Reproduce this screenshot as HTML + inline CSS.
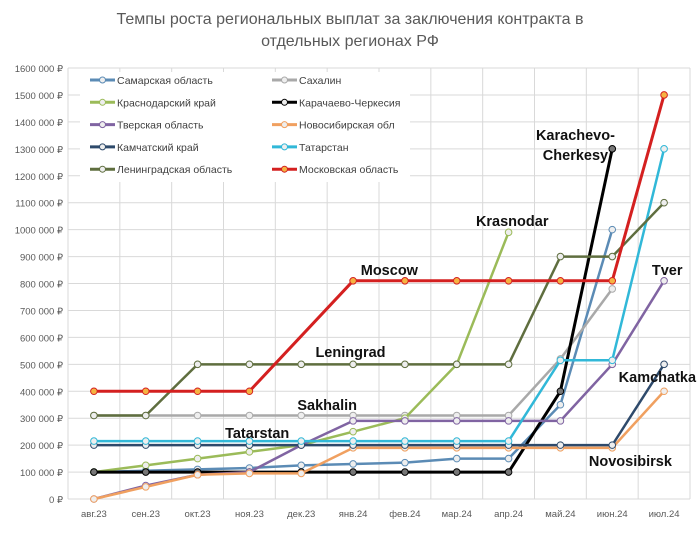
<!DOCTYPE html>
<html><head><meta charset="utf-8"><style>
body{margin:0;background:#fff;font-family:"Liberation Sans",sans-serif}
svg text{font-family:"Liberation Sans",sans-serif}
</style></head><body>
<svg id="c" width="700" height="531">
<text x="350" y="24" text-anchor="middle" font-size="16" fill="#595959">Темпы роста региональных выплат за заключения контракта в</text>
<text x="350" y="46" text-anchor="middle" font-size="16" fill="#595959">отдельных регионах РФ</text>
</svg>
<script>
const months=["авг.23","сен.23","окт.23","ноя.23","дек.23","янв.24","фев.24","мар.24","апр.24","май.24","июн.24","июл.24"];
const yTicks=[0,100000,200000,300000,400000,500000,600000,700000,800000,900000,1000000,1100000,1200000,1300000,1400000,1500000,1600000];
const seriesNames=["Самарская область","Сахалин","Краснодарский край","Карачаево-Черкесия","Тверская область","Новосибирская обл","Камчатский край","Татарстан","Ленинградская область","Московская область"];
const seriesColors=["#5b8bb5","#a9a9a9","#9bbb59","#000000","#8064a2","#f0a060","#2e4a6b","#31b8d8","#5f6e3f","#d42020"];
const samara=[100000,105000,110000,115000,125000,130000,135000,150000,150000,350000,1000000,null];
const sakhalin=[310000,310000,310000,310000,310000,310000,310000,310000,310000,520000,780000,null];
const krasnodar=[100000,125000,150000,175000,200000,250000,300000,500000,990000,null,null,null];
const karachay=[100000,100000,100000,100000,100000,100000,100000,100000,100000,400000,1300000,null];
const tver=[0,50000,90000,100000,200000,290000,290000,290000,290000,290000,500000,810000];
const novosib=[0,45000,90000,95000,95000,190000,190000,190000,190000,190000,190000,400000];
const kamchatka=[200000,200000,200000,200000,200000,200000,200000,200000,200000,200000,200000,500000];
const tatarstan=[215000,215000,215000,215000,215000,215000,215000,215000,215000,515000,515000,1300000];
const leningrad=[310000,310000,500000,500000,500000,500000,500000,500000,500000,900000,900000,1100000];
const moscow=[400000,400000,400000,400000,null,810000,810000,810000,810000,810000,810000,1500000];
const allSeries=[samara,sakhalin,krasnodar,karachay,tver,novosib,kamchatka,tatarstan,leningrad,moscow];
const labels=[["Moscow",5.7,850000],["Leningrad",4.95,546000],["Sakhalin",4.5,349000],["Tatarstan",3.15,245000],["Krasnodar",8.07,1032000],["Karachevo-",9.29,1351000],["Cherkesy",9.29,1277000],["Tver",11.06,850000],["Kamchatka",10.87,453000],["Novosibirsk",10.35,141000]];

const svg=document.getElementById('c');const NS="http://www.w3.org/2000/svg";
const L=68,R=690,T=68,B=499,max=1600000;
const step=(R-L)/months.length;
const x=i=>L+step*(i+0.5);
const y=v=>B-(v/max)*(B-T);
function fmt(v){if(v===0)return '0 ₽';const th=Math.floor(v/1000),r=v%1000;return th+' '+String(r).padStart(3,'0')+' ₽';}
function mk(t,a,p){const e=document.createElementNS(NS,t);for(const k in a)e.setAttribute(k,a[k]);(p||svg).appendChild(e);return e;}
yTicks.forEach(v=>{
 const l=mk('line',{x1:L,x2:R,y1:y(v),y2:y(v),stroke:'#d9d9d9'});
 
 
 const t=mk('text',{x:L-5,y:y(v)+4,'text-anchor':'end','font-size':9.5,fill:'#595959'});
 t.textContent=fmt(v);
 
 
});
for(let i=0;i<=months.length;i++){
 const l=mk('line',{x1:L+step*i,x2:L+step*i,y1:T,y2:B,stroke:'#d9d9d9'});
 
 
}
months.forEach((m,i)=>{
 const t=mk('text',{x:x(i),y:517,'text-anchor':'middle','font-size':9.5,fill:'#595959'});
 t.textContent=m;
 
 
});
allSeries.forEach((s,si)=>{
 const g=mk('g',{});
 
 
 const pts=[];s.forEach((v,i)=>{if(v!==null)pts.push([x(i),y(v)]);});
 mk('polyline',{points:pts.map(p=>p.join(',')).join(' '),fill:'none',stroke:seriesColors[si],'stroke-width':si===3||si===9?3:2.5},g);
 pts.forEach(p=>{
  const c=mk('circle',{cx:p[0],cy:p[1],r:3.3,fill:si===9?'#f5b342':(si===3?'#777':'#eee'),stroke:seriesColors[si],'stroke-width':1});
  
  
 });
});
const lg=mk('rect',{x:80,y:72,width:330,height:110,fill:'#fff'});
seriesNames.forEach((n,i)=>{
 const col=i%2,row=Math.floor(i/2);
 const lx=90+col*182,ly=80+row*22.3;
 const g=mk('g',{});
 
 
 mk('line',{x1:lx,x2:lx+25,y1:ly,y2:ly,stroke:seriesColors[i],'stroke-width':3},g);
 mk('circle',{cx:lx+12.5,cy:ly,r:3,fill:i===9?'#f5b342':'#eee',stroke:seriesColors[i]},g);
 const t=mk('text',{x:lx+27,y:ly+4,'font-size':10.5,fill:'#404040'},g);t.textContent=n;
});
labels.forEach(l=>{
 const t=mk('text',{x:x(l[1]),y:y(l[2])+5,'text-anchor':'middle','font-size':14.5,'font-weight':'bold',fill:'#111'});
 t.textContent=l[0];
 
 
});
</script>
</body></html>
